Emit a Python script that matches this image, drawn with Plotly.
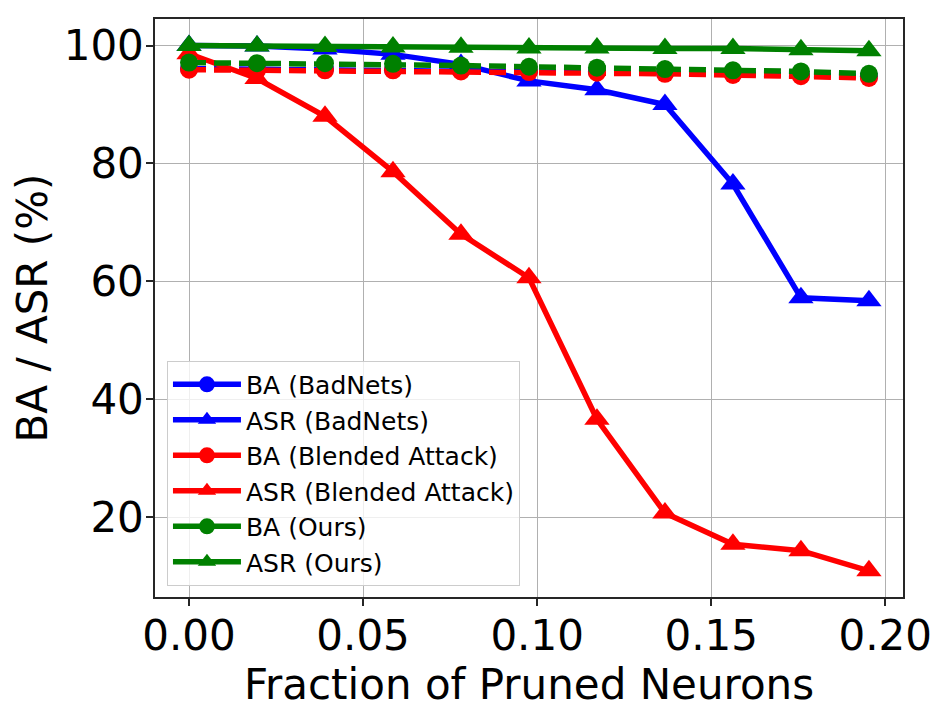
import plotly.graph_objects as go

fraction = [k * 10 / 512 for k in range(11)]

ba_badnets = [96.1, 96.0, 96.0, 95.9, 95.8, 95.7, 95.6, 95.4, 95.2, 95.0, 94.8]
asr_badnets = [100.0, 99.9, 99.4, 98.5, 96.8, 94.0, 92.5, 90.0, 76.5, 57.2, 56.7]
ba_blended = [95.9, 95.8, 95.8, 95.8, 95.6, 95.5, 95.4, 95.2, 95.0, 94.8, 94.5]
asr_blended = [98.6, 94.4, 88.0, 78.6, 68.0, 60.6, 36.6, 20.7, 15.4, 14.3, 10.9]
ba_ours = [97.1, 97.0, 97.0, 96.9, 96.6, 96.4, 96.25, 96.0, 95.8, 95.6, 95.2]
asr_ours = [100.0, 99.9, 99.85, 99.75, 99.7, 99.6, 99.6, 99.5, 99.5, 99.3, 99.1]

series = [
    ("BA (BadNets)", ba_badnets, "blue", "circle", "dash"),
    ("ASR (BadNets)", asr_badnets, "blue", "triangle-up", "solid"),
    ("BA (Blended Attack)", ba_blended, "red", "circle", "dash"),
    ("ASR (Blended Attack)", asr_blended, "red", "triangle-up", "solid"),
    ("BA (Ours)", ba_ours, "green", "circle", "dash"),
    ("ASR (Ours)", asr_ours, "green", "triangle-up", "solid"),
]

fig = go.Figure()
for i, (name, vals, color, sym, dash) in enumerate(series):
    msize = 18 if sym == "circle" else 22
    fig.add_trace(go.Scatter(
        x=fraction, y=vals, name=name, mode="lines+markers",
        line=dict(color=color, width=5.5, dash=("17px,8px" if dash == "dash" else "solid")),
        marker=dict(color=color, symbol=sym, size=msize),
        showlegend=False,
    ))
# legend entries (matplotlib-style legend handles drawn with solid lines)
for i, (name, vals, color, sym, dash) in enumerate(series):
    msize = 18 if sym == "circle" else 22
    fig.add_trace(go.Scatter(
        x=[None], y=[None], name=name, mode="lines+markers",
        line=dict(color=color, width=5.5),
        marker=dict(color=color, symbol=sym, size=msize),
        legendgroup=f"g{i}", showlegend=True,
    ))

font_family = "DejaVu Sans"
axis_common = dict(
    showline=True, mirror=True, linecolor="#262626", linewidth=1.5,
    ticks="outside", ticklen=7, tickwidth=1.5, tickcolor="#262626",
    showgrid=True, gridcolor="#b0b0b0", gridwidth=1, zeroline=False,
    tickfont=dict(family=font_family, size=42, color="black"),
    ticklabelstandoff=-6,
)

fig.update_layout(
    width=944, height=706,
    margin=dict(l=147, r=49, t=9, b=117),
    paper_bgcolor="white", plot_bgcolor="white",
    font=dict(family=font_family, color="black"),
    xaxis=dict(
        range=[-0.00977, 0.2051], tickvals=[0, 0.05, 0.10, 0.15, 0.20],
        ticktext=["0.00", "0.05", "0.10", "0.15", "0.20"],
        title=dict(text="Fraction of Pruned Neurons", font=dict(size=42, family=font_family), standoff=0),
        **axis_common,
    ),
    yaxis=dict(
        range=[6.45, 104.5], tickvals=[20, 40, 60, 80, 100],
        title=dict(text="BA / ASR (%)", font=dict(size=42, family=font_family), standoff=14),
        **axis_common,
    ),
    legend=dict(
        x=0.016, y=0.409, xanchor="left", yanchor="top",
        font=dict(size=25, family=font_family, color="black"),
        bgcolor="rgba(255,255,255,0.8)", bordercolor="#cccccc", borderwidth=1,
        tracegroupgap=0, itemwidth=68,
    ),
    showlegend=True,
)

fig.write_html("out.html")
